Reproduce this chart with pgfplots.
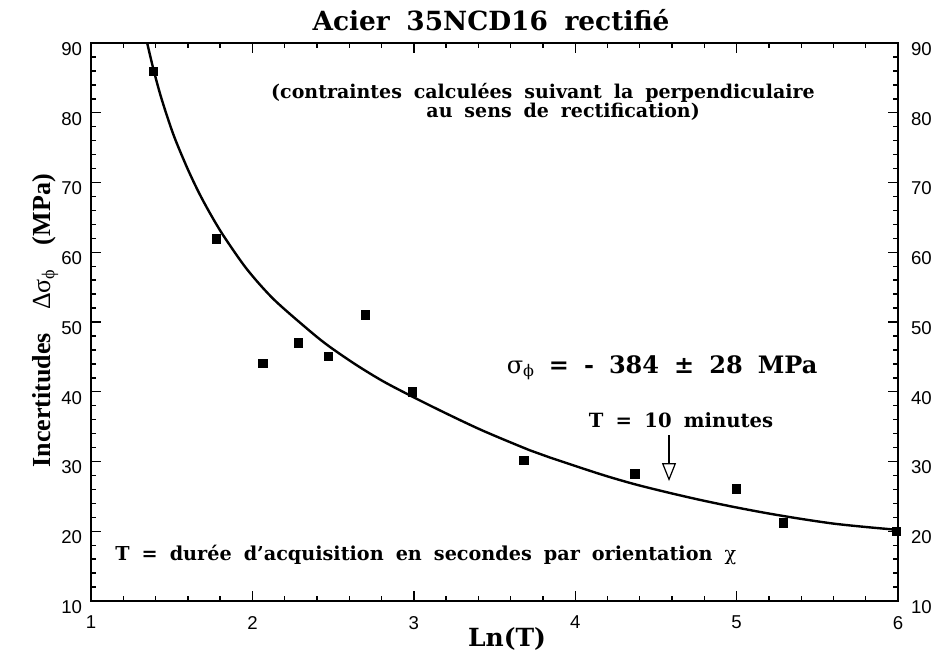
\documentclass[border=0pt]{standalone}
\usepackage{fontspec}
\setmainfont{DejaVu Serif}[WordSpace=1.8]
\setsansfont{Liberation Sans}
\newfontfamily\tnr{Liberation Serif}[WordSpace=1.8]
\usepackage{pgfplots}
\pgfplotsset{compat=1.18}
\usetikzlibrary{arrows.meta}

% Ln(T) vs incertitude (MPa)
\pgfplotstableread{
x y
1.386 85.9
1.778 61.9
2.064 44.1
2.284 47.0
2.470 45.1
2.700 51.0
2.990 40.0
3.683 30.2
4.370 28.2
5.000 26.1
5.290 21.2
5.990 20.0
}\mesures

% courbe lissee
\pgfplotstableread{
x y
1.345 90.3
1.386 86.3
1.437 82.0
1.510 76.9
1.592 72.3
1.665 68.7
1.737 65.6
1.820 62.4
1.965 57.6
2.130 53.3
2.346 48.9
2.470 46.6
2.640 43.9
2.810 41.5
3.000 39.2
3.200 36.9
3.430 34.4
3.720 31.6
3.840 30.6
4.154 28.2
4.360 26.8
4.567 25.6
4.773 24.5
4.980 23.5
5.186 22.6
5.393 21.8
5.600 21.1
5.806 20.6
6.000 20.2
}\courbe

\begin{document}
\begin{tikzpicture}
\pgfplotsset{
  base/.style={
    scale only axis, width=403.5pt, height=279pt,
    xmin=1, xmax=6, ymin=10, ymax=90,
    xtick={1,2,3,4,5,6}, ytick={10,20,...,90},
    /pgf/number format/assume math mode=true,
    ticklabel style={font=\sffamily\fontsize{9.3}{9.3}\selectfont},
  }
}
\begin{axis}[base,
    minor x tick num=4, minor y tick num=4,
    tick align=inside,
    major tick length=5pt, minor tick length=2.6pt,
    axis line style={line width=0.9pt},
    every tick/.style={black, line width=0.7pt},
    xticklabel style={yshift=-4pt},
    yticklabel style={yshift=-3pt, xshift=-1pt},
    clip mode=individual,
]
\addplot[black, line width=1.2pt, smooth, tension=0.5] table {\courbe};
\addplot[only marks, mark=square*, mark size=2.1pt, black] table {\mesures};

\node[anchor=base] at (rel axis cs:0.4957,1.0233) {\fontsize{13.2}{15}\selectfont\bfseries Acier 35NCD16 rectifié};
\node[anchor=base] at (rel axis cs:0.560,0.9014) {\fontsize{9.5}{11}\selectfont\bfseries (contraintes calculées suivant la perpendiculaire};
\node[anchor=base] at (rel axis cs:0.585,0.8674) {\fontsize{9.5}{11}\selectfont\bfseries au sens de rectification)};
\node[anchor=base] at (rel axis cs:0.7076,0.4086) {\fontsize{12}{14}\selectfont{\mdseries σ\textsubscript{ϕ}} \bfseries = - 384 ± 28 MPa};
\node[anchor=base] at (rel axis cs:0.7311,0.3118) {\fontsize{9.8}{11}\selectfont\bfseries T = 10 minutes};
\node[anchor=base west, inner sep=0pt] at (rel axis cs:0.0297,0.0735) {\fontsize{9.6}{11}\selectfont\bfseries T = durée d'acquisition en secondes par orientation {\mdseries χ}};
\node[anchor=base] at (rel axis cs:0.5155,-0.0806) {\fontsize{12.5}{14}\selectfont\bfseries Ln(T)};
\node[anchor=base, rotate=90] at (rel axis cs:-0.0508,0.502) {\tnr\fontsize{13}{15}\selectfont\bfseries Incertitudes \ {\mdseries Δσ\textsubscript{ϕ}} \ (MPa)};
\draw[line width=0.6pt, -{Triangle[open, length=9pt, width=7pt]}] (axis cs:4.581,33.8) -- (axis cs:4.581,27.2);

\coordinate (bl) at (rel axis cs:-0.1128,-0.0932);
\coordinate (tr) at (rel axis cs:1.0483,1.0771);
\end{axis}
\begin{axis}[base,
    hide x axis,
    y axis line style={draw=none},
    major tick length=0pt, minor y tick num=0,
    yticklabel pos=right,
    yticklabel style={yshift=-3pt, xshift=3pt},
]
\end{axis}
\pgfresetboundingbox
\path[use as bounding box] (bl) rectangle (tr);
\end{tikzpicture}
\end{document}
